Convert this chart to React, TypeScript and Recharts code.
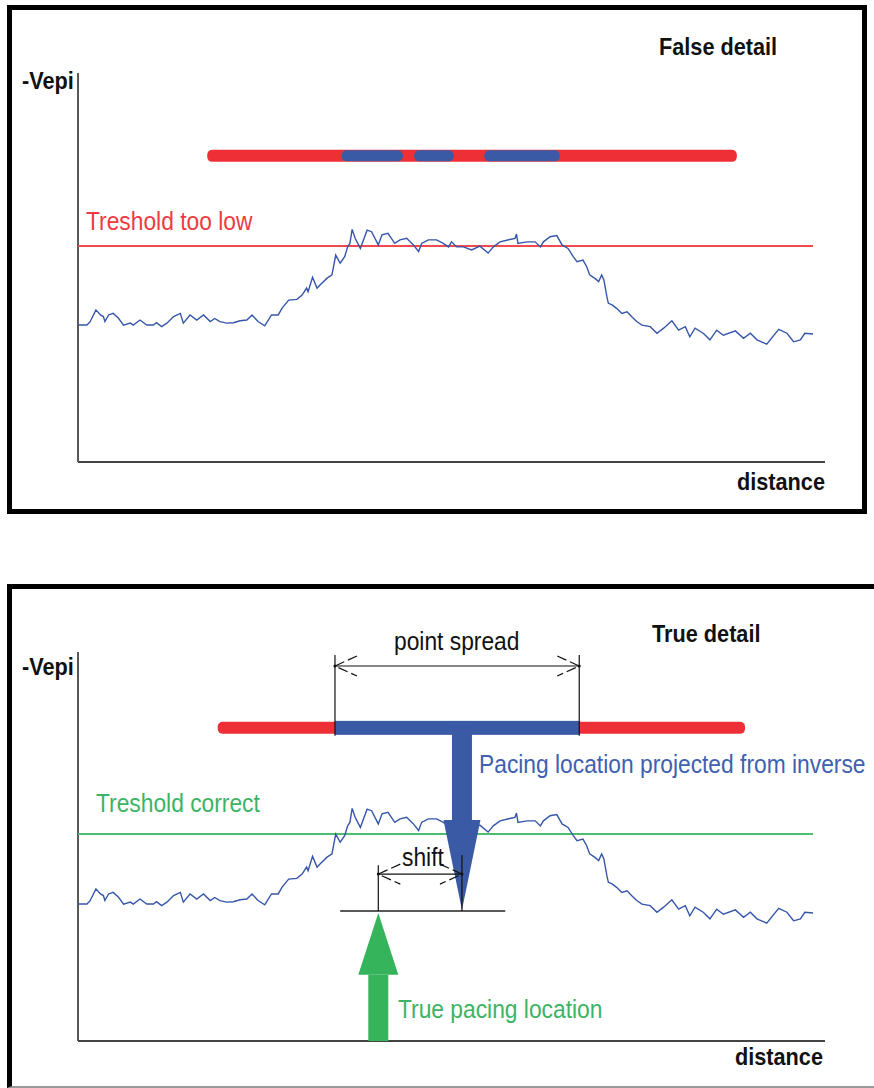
import React from 'react';
import { LineChart, Line, XAxis, YAxis, ReferenceLine } from 'recharts';

// ---- data (distance 0..100 along x axis, -Vepi 0..100 along y axis) ----
const distance = [
  0.0, 1.2, 1.6, 2.4, 3.0, 3.4, 3.6, 4.1, 4.7, 5.4, 6.1, 7.0, 7.4, 8.3, 9.2, 10.1, 10.5, 11.2, 11.9, 12.8,
  13.7, 14.1, 15.0, 15.9, 16.8, 17.7, 18.3, 19.0, 19.9, 20.8, 21.7, 22.6, 23.3, 24.1, 25.0, 25.9, 26.8, 27.3, 28.2, 29.3,
  30.0, 30.6, 30.8, 31.4, 32.0, 32.4, 33.3, 34.0, 34.5, 35.1, 35.7, 36.1, 36.4, 36.7, 37.1, 37.8, 38.7, 39.3, 40.2, 40.7,
  41.5, 42.4, 43.1, 44.0, 44.9, 45.6, 46.0, 46.9, 48.0, 48.9, 49.6, 50.0, 50.7, 51.6, 52.7, 53.8, 54.9, 55.6, 56.5, 57.8,
  58.5, 58.7, 58.9, 60.1, 61.2, 61.9, 62.3, 63.2, 64.1, 64.8, 65.6, 66.3, 66.8, 67.6, 68.1, 68.5, 69.2, 69.7, 70.1, 70.4,
  70.8, 71.0, 71.5, 72.1, 72.8, 73.5, 74.1, 74.8, 75.5, 76.6, 77.5, 78.4, 79.5, 80.4, 81.3, 81.9, 82.6, 83.7, 84.6, 85.5,
  86.4, 88.0, 89.1, 90.0, 90.9, 92.2, 93.8, 94.9, 95.8, 96.7, 97.3, 98.4,
];
const vepi = [
  35.2, 35.2, 36.0, 39.1, 37.8, 37.4, 36.1, 37.8, 38.2, 37.0, 35.2, 35.7, 35.2, 36.5, 35.2, 35.2, 35.8, 34.8, 35.7, 37.4,
  38.2, 35.7, 37.8, 36.5, 37.8, 36.1, 36.9, 36.1, 35.7, 35.8, 36.3, 36.5, 37.8, 36.1, 35.0, 37.8, 37.8, 39.5, 41.6, 41.8,
  42.9, 44.7, 43.8, 47.5, 44.7, 45.5, 47.2, 48.1, 53.2, 51.1, 52.8, 55.3, 56.2, 59.8, 57.5, 54.9, 59.6, 59.2, 55.8, 58.4,
  58.8, 56.2, 57.1, 57.5, 55.8, 54.1, 56.2, 57.1, 57.1, 56.2, 55.3, 56.6, 55.3, 55.3, 54.5, 55.5, 53.7, 55.3, 56.6, 57.2,
  57.5, 58.6, 56.2, 56.6, 56.6, 55.3, 56.6, 57.9, 58.2, 55.8, 54.9, 52.8, 51.5, 51.9, 50.2, 48.1, 47.2, 46.4, 48.1, 46.8,
  42.5, 40.8, 40.4, 39.5, 38.2, 38.6, 37.4, 36.1, 35.2, 34.8, 33.1, 34.4, 36.3, 33.9, 34.8, 32.2, 34.4, 33.1, 31.4, 33.9,
  32.6, 33.7, 31.8, 33.1, 31.4, 30.3, 34.1, 33.1, 30.9, 31.4, 33.1, 32.9,
];
const curveData = distance.map((d, i) => ({ d, v: vepi[i] }));

// top panel ("False detail")
const lowThreshold = 55.5;
const thresholdEnd = 98.4;
const falseBarLevel = 78.7;
const falseBarRange = [17.3, 88.2];
const falseDetailSegments = [
  [35.3, 43.5],
  [45.0, 50.3],
  [54.4, 64.5],
];

// bottom panel ("True detail")
const correctThreshold = 53.2;
const trueBarLevel = 80.5;
const trueBarRange = [18.7, 89.3];
const pointSpread = [34.4, 67.1];
const spreadTickTop = 99.2;
const spreadArrowLevel = 96.4;
const projectedLocation = 51.4;
const projectedHeadBase = 56.8;
const projectedTip = 33.7;
const shiftBaseLevel = 33.4;
const shiftBaseRange = [35.1, 57.2];
const shiftArrowLevel = 42.9;
const shiftTickTop = [45.2, 47.8];
const trueLocation = 40.2;
const trueHeadBase = 17.0;
const trueTip = 32.9;

const RED = '#ee3036';
const BLUE = '#3a5aa6';
const CURVE = '#3656ab';
const GREEN = '#36b45c';

const W = 874;
const H = 500;
const MARGIN = { top: 73, right: 49, bottom: 38, left: 78 };

const barShape = (color: string, thickness: number, radius: number) => (p: any) => {
  const x = Math.min(p.x1, p.x2);
  const w = Math.abs(p.x2 - p.x1);
  return <rect x={x} y={p.y1 - thickness / 2} width={w} height={thickness} rx={radius} ry={radius} fill={color} />;
};

const headShape = (color: string, halfWidth: number) => (p: any) => (
  <polygon
    points={`${p.x1 - halfWidth},${p.y1} ${p.x1 + halfWidth},${p.y1} ${p.x2},${p.y2}`}
    fill={color}
  />
);

const dimShape = (p: any) => {
  const x1 = Math.min(p.x1, p.x2);
  const x2 = Math.max(p.x1, p.x2);
  const y = p.y1;
  const L = 22;
  const h = 10;
  return (
    <g stroke="#111" strokeWidth={1.2} fill="none">
      <line x1={x1} y1={y} x2={x2} y2={y} />
      <polyline points={`${x1 + L},${y - h} ${x1},${y} ${x1 + L},${y + h}`} strokeDasharray="10 4" />
      <polyline points={`${x2 - L},${y - h} ${x2},${y} ${x2 - L},${y + h}`} strokeDasharray="10 4" />
      <circle cx={x1} cy={y} r={1.5} fill="#111" stroke="none" />
      <circle cx={x2} cy={y} r={1.5} fill="#111" stroke="none" />
    </g>
  );
};

function Panel({ top }: { top: boolean }) {
  return (
    <LineChart width={W} height={H} data={curveData} margin={MARGIN}>
      <XAxis type="number" dataKey="d" domain={[0, 100]} allowDataOverflow hide />
      <YAxis type="number" domain={[0, 100]} allowDataOverflow hide />
      <ReferenceLine segment={[{ x: 0, y: 0 }, { x: 0, y: 100 }]} stroke="#222" strokeWidth={1.5} ifOverflow="visible" />
      <ReferenceLine segment={[{ x: 0, y: 0 }, { x: 100, y: 0 }]} stroke="#444" strokeWidth={2} ifOverflow="visible" />
      {top ? (
        <ReferenceLine
          segment={[{ x: 0, y: lowThreshold }, { x: thresholdEnd, y: lowThreshold }]}
          stroke="#f24a4f"
          strokeWidth={2}
          ifOverflow="visible"
        />
      ) : (
        <ReferenceLine
          segment={[{ x: 0, y: correctThreshold }, { x: thresholdEnd, y: correctThreshold }]}
          stroke="#4cbd6e"
          strokeWidth={2}
          ifOverflow="visible"
        />
      )}
      <Line
        type="linear"
        dataKey="v"
        stroke={CURVE}
        strokeWidth={1.4}
        dot={false}
        activeDot={false}
        isAnimationActive={false}
      />
      {top && (
        <ReferenceLine
          segment={[{ x: falseBarRange[0], y: falseBarLevel }, { x: falseBarRange[1], y: falseBarLevel }]}
          shape={barShape(RED, 12, 5)}
          ifOverflow="visible"
        />
      )}
      {top &&
        falseDetailSegments.map((s, i) => (
          <ReferenceLine
            key={i}
            segment={[{ x: s[0], y: falseBarLevel }, { x: s[1], y: falseBarLevel }]}
            shape={barShape(BLUE, 11, 5)}
            ifOverflow="visible"
          />
        ))}
      {!top && (
        <ReferenceLine
          segment={[{ x: trueBarRange[0], y: trueBarLevel }, { x: trueBarRange[1], y: trueBarLevel }]}
          shape={barShape(RED, 12, 5)}
          ifOverflow="visible"
        />
      )}
      {!top && (
        <ReferenceLine
          segment={[{ x: pointSpread[0], y: trueBarLevel }, { x: pointSpread[1], y: trueBarLevel }]}
          shape={barShape(BLUE, 14, 0)}
          ifOverflow="visible"
        />
      )}
      {!top && (
        <ReferenceLine
          segment={[{ x: projectedLocation, y: trueBarLevel }, { x: projectedLocation, y: projectedHeadBase }]}
          stroke={BLUE}
          strokeWidth={20}
          ifOverflow="visible"
        />
      )}
      {!top && (
        <ReferenceLine
          segment={[{ x: projectedLocation, y: projectedHeadBase }, { x: projectedLocation, y: projectedTip }]}
          shape={headShape(BLUE, 18.5)}
          ifOverflow="visible"
        />
      )}
      {!top &&
        pointSpread.map((x, i) => (
          <ReferenceLine
            key={'ps' + i}
            segment={[{ x, y: spreadTickTop }, { x, y: trueBarLevel - 2 }]}
            stroke="#111"
            strokeWidth={1.2}
            ifOverflow="visible"
          />
        ))}
      {!top && (
        <ReferenceLine
          segment={[{ x: pointSpread[0], y: spreadArrowLevel }, { x: pointSpread[1], y: spreadArrowLevel }]}
          shape={dimShape}
          ifOverflow="visible"
        />
      )}
      {!top && (
        <ReferenceLine
          segment={[{ x: shiftBaseRange[0], y: shiftBaseLevel }, { x: shiftBaseRange[1], y: shiftBaseLevel }]}
          stroke="#222"
          strokeWidth={1.5}
          ifOverflow="visible"
        />
      )}
      {!top && (
        <ReferenceLine
          segment={[{ x: trueLocation, y: shiftBaseLevel }, { x: trueLocation, y: shiftTickTop[0] }]}
          stroke="#111"
          strokeWidth={1.2}
          ifOverflow="visible"
        />
      )}
      {!top && (
        <ReferenceLine
          segment={[{ x: projectedLocation, y: shiftBaseLevel }, { x: projectedLocation, y: shiftTickTop[1] }]}
          stroke="#111"
          strokeWidth={1.2}
          ifOverflow="visible"
        />
      )}
      {!top && (
        <ReferenceLine
          segment={[{ x: trueLocation, y: shiftArrowLevel }, { x: projectedLocation, y: shiftArrowLevel }]}
          shape={dimShape}
          ifOverflow="visible"
        />
      )}
      {!top && (
        <ReferenceLine
          segment={[{ x: trueLocation, y: 0 }, { x: trueLocation, y: trueHeadBase }]}
          stroke={GREEN}
          strokeWidth={20}
          ifOverflow="visible"
        />
      )}
      {!top && (
        <ReferenceLine
          segment={[{ x: trueLocation, y: trueHeadBase }, { x: trueLocation, y: trueTip }]}
          shape={headShape(GREEN, 20)}
          ifOverflow="visible"
        />
      )}
    </LineChart>
  );
}

const FONT = '"Liberation Sans", Arial, Helvetica, sans-serif';

function Txt({ x, cy, size, bold, color, children }: any) {
  return (
    <div
      style={{
        position: 'absolute',
        left: x,
        top: cy,
        transform: 'translateY(-50%) scaleY(1.1)',
        transformOrigin: 'left center',
        fontFamily: FONT,
        fontSize: size,
        fontWeight: bold ? 700 : 400,
        color,
        lineHeight: 1,
        whiteSpace: 'nowrap',
        zIndex: 5,
      }}
    >
      {children}
    </div>
  );
}

const BOLD = 21.7;
const REG = 22.8;

export default function App() {
  return (
    <div
      style={{
        position: 'absolute',
        left: 0,
        top: 0,
        width: 874,
        height: 1088,
        overflow: 'hidden',
        background: '#fff',
      }}
    >
      {/* panel frames */}
      <div
        style={{
          position: 'absolute',
          left: 7,
          top: 5,
          width: 860,
          height: 509,
          border: '5px solid #000',
          boxSizing: 'border-box',
        }}
      />
      <div
        style={{
          position: 'absolute',
          left: 7,
          top: 584,
          width: 900,
          height: 504,
          borderLeft: '5px solid #000',
          borderTop: '5px solid #000',
          borderBottom: '2px solid #999',
          boxSizing: 'border-box',
        }}
      />
      <div style={{ position: 'absolute', left: 0, top: 0 }}>
        <Panel top={true} />
      </div>
      <div style={{ position: 'absolute', left: 0, top: 579 }}>
        <Panel top={false} />
      </div>

      <Txt x={22} cy={81} size={BOLD} bold color="#111">-Vepi</Txt>
      <Txt x={659} cy={47} size={BOLD} bold color="#111">False detail</Txt>
      <Txt x={737} cy={482} size={BOLD} bold color="#111">distance</Txt>
      <Txt x={86} cy={222} size={REG} color="#ee3a44">Treshold too low</Txt>

      <Txt x={22} cy={667} size={BOLD} bold color="#111">-Vepi</Txt>
      <Txt x={652} cy={634} size={BOLD} bold color="#111">True detail</Txt>
      <Txt x={735} cy={1057} size={BOLD} bold color="#111">distance</Txt>
      <Txt x={394} cy={642} size={REG} color="#111">point spread</Txt>
      <Txt x={479} cy={765} size={REG} color="#4060b0">Pacing location projected from inverse</Txt>
      <Txt x={96} cy={804} size={REG} color="#3cb464">Treshold correct</Txt>
      <Txt x={402} cy={858} size={REG} color="#111">shift</Txt>
      <Txt x={398} cy={1010} size={REG} color="#3cb464">True pacing location</Txt>
    </div>
  );
}
